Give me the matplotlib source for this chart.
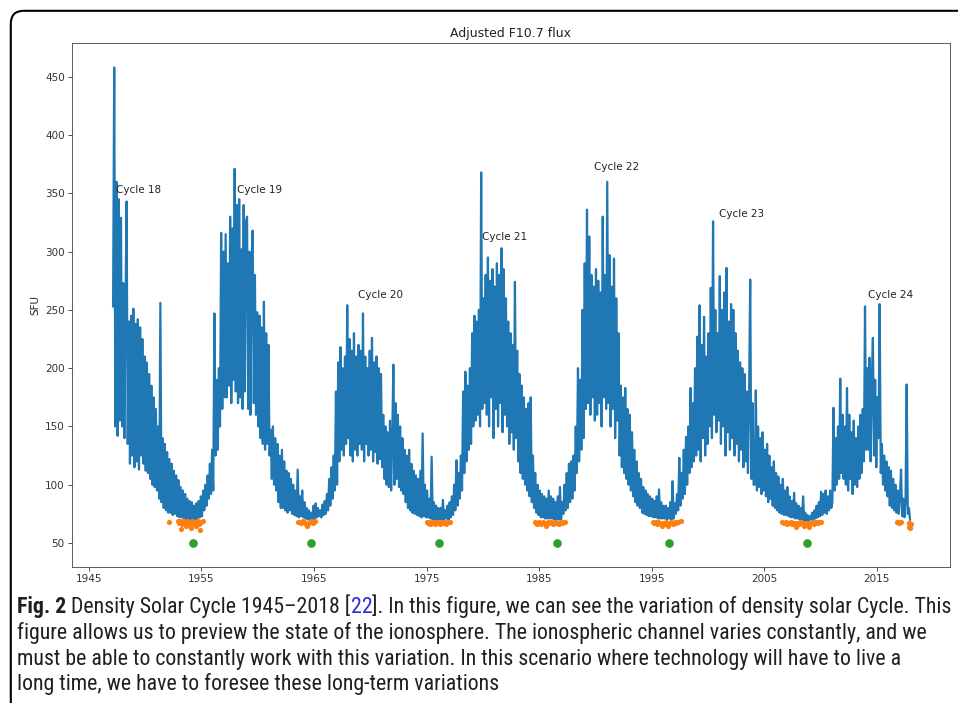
import numpy as np
import matplotlib
matplotlib.use("Agg")
import matplotlib.pyplot as plt
from matplotlib import font_manager
from matplotlib.patches import FancyBboxPatch
from matplotlib.transforms import IdentityTransform

# adjusted F10.7 flux (SFU): 10 samples a year from 1947.15
flux_start = 1947.15
flux_step = 0.1
flux_rows = [
    [253, 458, 150, 360, 142, 345, 155, 329, 150, 273],  # 1947
    [140, 252, 343, 135, 240, 118, 245, 125, 251, 115],  # 1948
    [238, 120, 242, 113, 235, 125, 225, 118, 210, 112],  # 1949
    [205, 110, 195, 105, 185, 100, 175, 98, 165, 95],    # 1950
    [150, 88, 256, 85, 140, 80, 135, 78, 128, 76],       # 1951
    [122, 76, 118, 74, 112, 75, 108, 73, 104, 72],       # 1952
    [98, 72, 95, 71, 92, 70, 88, 70, 86, 70],            # 1953
    [85, 70, 82, 70, 84, 71, 86, 72, 90, 73],            # 1954
    [95, 78, 100, 82, 108, 88, 118, 92, 130, 95],        # 1955
    [247, 125, 190, 130, 200, 150, 316, 165, 300, 175],  # 1956
    [315, 175, 290, 185, 330, 170, 320, 190, 371, 180],  # 1957
    [340, 170, 345, 175, 302, 165, 340, 180, 325, 330],  # 1958
    [165, 300, 160, 290, 318, 170, 280, 160, 248, 150],  # 1959
    [245, 140, 235, 135, 257, 130, 230, 135, 220, 125],  # 1960
    [147, 105, 150, 100, 140, 95, 135, 85, 125, 80],     # 1961
    [130, 80, 120, 78, 112, 76, 110, 78, 105, 75],       # 1962
    [100, 74, 95, 73, 113, 72, 90, 73, 95, 72],          # 1963
    [85, 71, 80, 70, 78, 70, 76, 70, 82, 71],            # 1964
    [84, 72, 80, 73, 78, 72, 83, 74, 86, 75],            # 1965
    [92, 78, 105, 82, 115, 88, 125, 95, 180, 100],       # 1966
    [205, 120, 218, 130, 200, 125, 210, 135, 254, 140],  # 1967
    [225, 125, 215, 120, 230, 130, 210, 125, 220, 135],  # 1968
    [215, 130, 247, 120, 210, 135, 200, 125, 215, 130],  # 1969
    [226, 120, 205, 128, 210, 118, 200, 122, 195, 115],  # 1970
    [160, 105, 150, 100, 145, 98, 155, 95, 140, 203],    # 1971
    [100, 170, 105, 160, 98, 150, 95, 140, 92, 130],     # 1972
    [85, 125, 80, 130, 78, 118, 76, 112, 75, 108],       # 1973
    [74, 105, 73, 112, 72, 144, 73, 100, 72, 95],        # 1974
    [72, 88, 71, 124, 70, 85, 70, 82, 70, 80],           # 1975
    [70, 80, 70, 87, 70, 78, 71, 82, 70, 85],            # 1976
    [72, 90, 74, 100, 78, 121, 82, 110, 88, 125],        # 1977
    [95, 180, 110, 197, 120, 185, 130, 200, 135, 230],   # 1978
    [150, 245, 155, 240, 160, 250, 150, 368, 165, 260],  # 1979
    [170, 280, 160, 295, 150, 275, 175, 285, 140, 270],  # 1980
    [165, 290, 150, 280, 170, 303, 145, 285, 160, 260],  # 1981
    [150, 240, 135, 230, 145, 220, 130, 274, 140, 215],  # 1982
    [120, 195, 110, 185, 105, 175, 100, 165, 95, 170],   # 1983
    [90, 175, 85, 125, 80, 110, 76, 100, 74, 95],        # 1984
    [72, 92, 72, 90, 71, 88, 71, 95, 71, 90],            # 1985
    [71, 88, 70, 85, 70, 90, 70, 98, 70, 85],            # 1986
    [75, 100, 78, 110, 80, 118, 85, 120, 88, 125],       # 1987
    [95, 150, 110, 200, 120, 190, 130, 250, 140, 290],   # 1988
    [165, 336, 170, 313, 160, 280, 175, 270, 155, 285],  # 1989
    [160, 275, 170, 265, 150, 330, 175, 280, 165, 360],  # 1990
    [170, 297, 150, 270, 165, 294, 140, 260, 155, 230],  # 1991
    [125, 185, 115, 175, 110, 183, 105, 165, 100, 160],  # 1992
    [95, 145, 90, 130, 85, 120, 82, 110, 80, 105],       # 1993
    [76, 98, 75, 95, 74, 92, 73, 90, 73, 88],            # 1994
    [72, 86, 72, 90, 71, 96, 71, 85, 71, 82],            # 1995
    [71, 82, 70, 80, 71, 85, 70, 103, 71, 84],           # 1996
    [75, 92, 78, 123, 82, 110, 88, 130, 92, 141],        # 1997
    [100, 150, 110, 183, 115, 170, 120, 200, 125, 227],  # 1998
    [130, 254, 120, 220, 140, 244, 125, 210, 135, 230],  # 1999
    [150, 269, 140, 326, 160, 250, 145, 230, 155, 279],  # 2000
    [135, 250, 150, 265, 125, 286, 145, 240, 130, 255],  # 2001
    [140, 250, 125, 230, 135, 215, 120, 205, 130, 200],  # 2002
    [115, 195, 120, 180, 110, 175, 276, 105, 170, 100],  # 2003
    [100, 181, 95, 150, 98, 140, 92, 145, 95, 130],      # 2004
    [90, 135, 85, 125, 88, 115, 82, 120, 80, 110],       # 2005
    [78, 107, 76, 100, 75, 105, 74, 95, 74, 98],         # 2006
    [73, 90, 72, 86, 72, 93, 71, 84, 71, 82],            # 2007
    [70, 80, 70, 90, 69, 76, 69, 74, 69, 73],            # 2008
    [70, 76, 70, 78, 71, 82, 72, 85, 73, 94],            # 2009
    [74, 92, 76, 95, 75, 90, 78, 95, 80, 85],            # 2010
    [166, 95, 140, 100, 150, 105, 191, 110, 160, 105],   # 2011
    [150, 100, 183, 95, 160, 105, 145, 92, 155, 100],    # 2012
    [140, 98, 150, 105, 160, 110, 165, 120, 253, 130],   # 2013
    [200, 130, 209, 120, 185, 226, 125, 190, 115, 175],  # 2014
    [140, 255, 110, 135, 100, 125, 95, 120, 90, 115],    # 2015
    [82, 112, 80, 105, 78, 100, 76, 95, 75, 90],         # 2016
    [113, 73, 88, 72, 85, 186, 75, 80, 70],              # 2017
]

# days under the quiet-sun threshold (orange)
quiet_years = [
    1952.15, 1952.9, 1953.0, 1953.1, 1953.15, 1953.25, 1953.35, 1953.45, 1953.55, 1953.65,
    1953.75, 1953.85, 1953.95, 1954.0, 1954.1, 1954.2, 1954.3, 1954.4, 1954.5, 1954.6,
    1954.7, 1954.8, 1954.9, 1955.0, 1955.1,
    1963.6, 1963.7, 1963.8, 1963.9, 1964.0, 1964.2, 1964.3, 1964.4, 1964.55, 1964.7,
    1964.8, 1964.9, 1965.0, 1965.1,
    1975.0, 1975.1, 1975.2, 1975.3, 1975.45, 1975.6, 1975.75, 1975.85, 1975.95, 1976.1,
    1976.2, 1976.35, 1976.5, 1976.6, 1976.75, 1976.9, 1977.05,
    1984.65, 1984.75, 1984.85, 1985.0, 1985.1, 1985.2, 1985.35, 1985.5, 1985.6, 1985.75,
    1985.9, 1986.05, 1986.2, 1986.3, 1986.45, 1986.6, 1986.75, 1986.9, 1987.05, 1987.2, 1987.3,
    1995.1, 1995.2, 1995.35, 1995.5, 1995.6, 1995.75, 1995.9, 1996.0, 1996.15, 1996.3,
    1996.45, 1996.6, 1996.75, 1996.9, 1997.05, 1997.2, 1997.35, 1997.6,
    2006.6, 2006.75, 2006.9, 2007.05, 2007.2, 2007.35, 2007.5, 2007.65, 2007.8, 2007.95,
    2008.1, 2008.25, 2008.4, 2008.55, 2008.7, 2008.85, 2009.0, 2009.15, 2009.3, 2009.45,
    2009.6, 2009.75, 2009.9, 2010.0,
    2016.8, 2016.9, 2017.0, 2017.15, 2017.85, 2017.9, 2017.95, 2018.0,
]
quiet_flux = [
    68, 69, 67, 69, 62, 66, 69, 67, 68, 65,
    69, 67, 66, 68, 63, 69, 66, 68, 65, 67,
    69, 66, 61, 68, 69,
    68, 68, 67, 68, 69, 67, 66, 65, 67, 69,
    68, 67, 68, 69,
    68, 67, 68, 66, 68, 67, 66, 68, 67, 68,
    66, 68, 67, 68, 66, 68, 68,
    68, 67, 66, 68, 67, 66, 68, 67, 65, 68,
    67, 68, 66, 67, 68, 67, 66, 68, 67, 68, 68,
    68, 67, 68, 66, 68, 67, 65, 67, 66, 68,
    65, 67, 68, 66, 68, 67, 68, 69,
    68, 67, 68, 66, 67, 68, 66, 67, 64, 67,
    66, 68, 67, 65, 67, 66, 64, 67, 68, 66,
    68, 67, 68, 68,
    68, 68, 67, 68, 67, 64, 63, 66,
]

# solar minima (green)
minimum_years = [1954.24, 1964.73, 1976.1, 1986.6, 1996.56, 2008.8]
minimum_flux = [50, 50, 50, 50, 50, 50]

cycle_labels = ["Cycle 18", "Cycle 19", "Cycle 20", "Cycle 21", "Cycle 22", "Cycle 23", "Cycle 24"]
cycle_years = [1947.37, 1958.2, 1968.88, 1979.96, 1989.83, 2001.0, 2014.2]
cycle_flux = [350, 350, 260, 310, 370, 330, 260]

tick_years = [1945, 1955, 1965, 1975, 1985, 1995, 2005, 2015]

flux = np.concatenate([np.array(r, dtype=float) for r in flux_rows])
flux_years = flux_start + flux_step * np.arange(len(flux))

plt.rcParams.update({
    "font.family": "DejaVu Sans",
    "font.size": 7.5,
    "axes.titlesize": 9,
    "axes.linewidth": 0.6,
    "xtick.major.size": 2.6,
    "ytick.major.size": 2.6,
    "xtick.major.width": 0.6,
    "ytick.major.width": 0.6,
    "xtick.major.pad": 2.6,
    "ytick.major.pad": 2.6,
    "xtick.color": "#333333",
    "ytick.color": "#333333",
})

W, H = 958, 703
fig = plt.figure(figsize=(W / 100, H / 100), dpi=100)
ax = fig.add_axes([72 / W, 1 - 567 / H, (950 - 72) / W, (567 - 43) / H])

ax.plot(flux_years, flux, color="C0", lw=1.6)
ax.scatter(quiet_years, quiet_flux, color="C1", s=14, linewidths=0, zorder=3)
ax.plot(minimum_years, minimum_flux, "o", color="C2", ms=5.2, zorder=4)
for lab, yr, v in zip(cycle_labels, cycle_years, cycle_flux):
    ax.text(yr, v, lab, fontsize=7.5, color="#222222")

ax.set_xlim(1943.5, 2021.5)
ax.set_ylim(29.4, 479)
ax.set_xticks(tick_years)
ax.set_xticklabels([str(y) for y in tick_years])
ax.set_yticks(range(50, 451, 50))
ax.set_title("Adjusted F10.7 flux", pad=4.5, color="#222222")
ax.set_ylabel("SFU", labelpad=3, color="#222222")
for s in ax.spines.values():
    s.set_color("#444444")

# outer frame of the journal figure box
frame = FancyBboxPatch((10.8, -60), 1100, 692.2 + 60,
                       boxstyle="round,pad=0,rounding_size=13",
                       transform=IdentityTransform(), fill=False,
                       edgecolor="black", linewidth=1.5, clip_on=False)
fig.patches.append(frame)

# caption
names = {f.name for f in font_manager.fontManager.ttflist}
cap_family = next((n for n in ["Liberation Sans Narrow", "Roboto Condensed", "Open Sans Condensed"]
                   if n in names), "DejaVu Sans")
renderer = fig.canvas.get_renderer()


def width_of(s, size, weight="normal"):
    t = fig.text(0, 0, s, fontsize=size, family=cap_family, fontweight=weight,
                 transform=IdentityTransform())
    w = t.get_window_extent(renderer).width
    t.remove()
    return w


def caption_line(base_y, pieces, size):
    x = 17
    space = width_of("a a", size) - width_of("aa", size)
    for s, weight, color, gap in pieces:
        t = fig.text(x, H - base_y, s, fontsize=size, family=cap_family, fontweight=weight,
                     color=color, va="baseline", transform=IdentityTransform())
        x += t.get_window_extent(renderer).width + (space if gap else 0)
    return x


ink = "#231f20"
line1 = [("Fig. 2", "bold", ink, True),
         ("Density Solar Cycle 1945–2018 [", "normal", ink, False),
         ("22", "normal", "#2b2bd9", False),
         ("]. In this figure, we can see the variation of density solar Cycle. This", "normal", ink, False)]

size = 10.0
for _ in range(2):
    total = sum(width_of(s, size, w) for s, w, c, g in line1) + (width_of("a a", size) - width_of("aa", size))
    size *= (953 - 17) / total

caption_line(613, line1, size)
caption_line(639, [("figure allows us to preview the state of the ionosphere. The ionospheric channel varies constantly, and we",
                    "normal", ink, False)], size)
caption_line(665, [("must be able to constantly work with this variation. In this scenario where technology will have to live a",
                    "normal", ink, False)], size)
caption_line(690, [("long time, we have to foresee these long-term variations", "normal", ink, False)], size)

fig.savefig("out.png", dpi=100)
